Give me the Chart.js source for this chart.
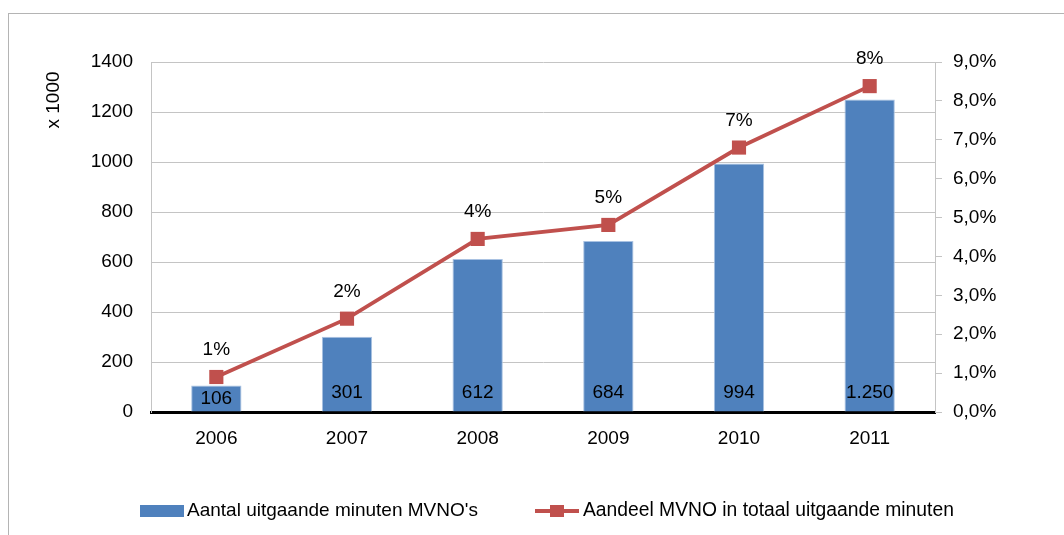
<!DOCTYPE html>
<html>
<head>
<meta charset="utf-8">
<script src="https://cdn.jsdelivr.net/npm/chart.js@4"></script>
<style>
  html, body { margin: 0; padding: 0; background: #fff; overflow: hidden; }
  #wrap { position: relative; width: 1064px; height: 535px; }
</style>
</head>
<body>
<div id="wrap"><canvas id="chart" width="1064" height="535"></canvas></div>
<script>
// ===== Data =====
const years = ['2006', '2007', '2008', '2009', '2010', '2011'];
const minutes = [106, 301, 612, 684, 994, 1250];           // x 1000
const share = [0.9, 2.4, 4.45, 4.81, 6.8, 8.38];           // percent
const minutesLabel = "Aantal uitgaande minuten MVNO's";
const shareLabel = 'Aandeel MVNO in totaal uitgaande minuten';

const BLUE = '#4F81BD';
const RED = '#C0504D';
const FONT = '"Liberation Sans", Arial, sans-serif';
const GRID = '#c4c4c4';

Chart.defaults.font.family = FONT;
Chart.defaults.font.size = 19;
Chart.defaults.color = '#000';

// Dutch number format: 1.250
function nl(n){
  return n.toString().replace(/\B(?=(\d{3})+(?!\d))/g, '.');
}

// Frame, axis title, value labels and legend
const extras = {
  id: 'extras',
  beforeDraw(chart){
    const ctx = chart.ctx;
    ctx.save();
    ctx.strokeStyle = '#b4b4b4';
    ctx.lineWidth = 1;
    ctx.strokeRect(8.5, 13.5, 1100, 600);
    ctx.restore();
  },
  afterDatasetsDraw(chart){
    const ctx = chart.ctx;
    ctx.save();
    ctx.font = '19px ' + FONT;
    ctx.fillStyle = '#000';
    ctx.textAlign = 'center';
    ctx.textBaseline = 'middle';

    // bar labels, inside base
    chart.getDatasetMeta(1).data.forEach((bar, i) => {
      const y = Math.max(bar.base - 19, (bar.y + bar.base) / 2);
      ctx.fillText(nl(minutes[i]), bar.x, y);
    });
    // line labels, above points
    chart.getDatasetMeta(0).data.forEach((pt, i) => {
      ctx.fillText(share[i].toFixed(0) + '%', pt.x, pt.y - 27);
    });

    // y axis title
    ctx.save();
    ctx.translate(54, 100);
    ctx.rotate(-Math.PI / 2);
    ctx.fillText('x 1000', 0, 0);
    ctx.restore();

    // legend
    const ly = 511;
    ctx.textAlign = 'left';
    ctx.fillStyle = BLUE;
    ctx.fillRect(140, ly - 6, 44, 12);
    ctx.fillStyle = '#000';
    ctx.fillText(minutesLabel, 187, ly);

    ctx.strokeStyle = RED;
    ctx.lineWidth = 4;
    ctx.beginPath();
    ctx.moveTo(535, ly);
    ctx.lineTo(579, ly);
    ctx.stroke();
    ctx.fillStyle = RED;
    ctx.fillRect(550, ly - 6, 14, 12);
    ctx.fillStyle = '#000';
    ctx.font = '19.3px ' + FONT;
    ctx.fillText(shareLabel, 583, ly);
    ctx.restore();
  }
};

const ctx = document.getElementById('chart').getContext('2d');
new Chart(ctx, {
  data: {
    labels: years,
    datasets: [
      {
        type: 'line',
        label: shareLabel,
        data: share,
        yAxisID: 'y1',
        borderColor: RED,
        backgroundColor: RED,
        borderWidth: 3.8,
        pointStyle: 'rect',
        pointRadius: 10,
        pointBorderWidth: 0,
        tension: 0,
        order: 0
      },
      {
        type: 'bar',
        label: minutesLabel,
        data: minutes,
        yAxisID: 'y',
        backgroundColor: BLUE,
        borderColor: '#a9c2e2',
        borderWidth: { left: 1, right: 1, top: 1, bottom: 0 },
        barPercentage: 0.385,
        categoryPercentage: 1,
        order: 1
      }
    ]
  },
  options: {
    responsive: false,
    animation: false,
    events: [],
    layout: { padding: { top: 62, left: 0, right: 0, bottom: 0 } },
    plugins: {
      legend: { display: false },
      tooltip: { enabled: false }
    },
    scales: {
      x: {
        afterFit: s => { s.height = 123; },
        grid: { display: false, drawTicks: false },
        border: { color: '#000', width: 3 },
        ticks: { padding: 15 }
      },
      y: {
        position: 'left',
        min: 0,
        max: 1400,
        afterFit: s => { s.width = 151; },
        grid: { color: GRID, drawTicks: false },
        border: { color: GRID, width: 1 },
        ticks: { stepSize: 200, padding: 18, callback: v => v }
      },
      y1: {
        position: 'right',
        min: 0,
        max: 9,
        afterFit: s => { s.width = 129; },
        grid: { drawOnChartArea: false, color: GRID, tickLength: 7 },
        border: { color: GRID, width: 1 },
        ticks: { stepSize: 1, padding: 11, callback: v => v.toFixed(1).replace('.', ',') + '%' }
      }
    }
  },
  plugins: [extras]
});
</script>
</body>
</html>
